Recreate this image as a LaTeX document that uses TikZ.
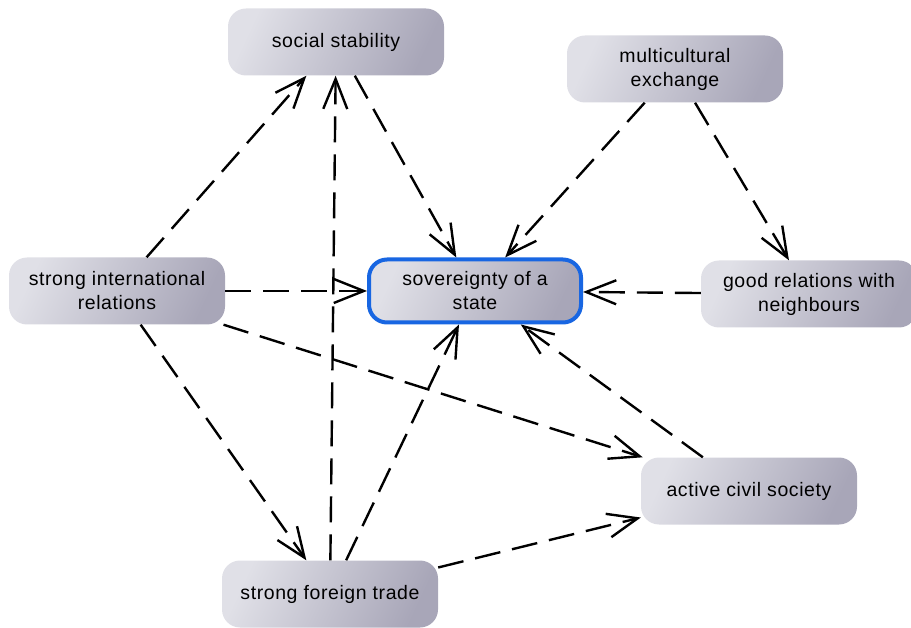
\documentclass[tikz,border=0pt]{standalone}
\usepackage{fontspec}
\setmainfont{Liberation Sans}[LetterSpace=3]
\usetikzlibrary{arrows.meta,shadings}

\definecolor{boxlight}{HTML}{E0E0E7}
\definecolor{boxmid}{HTML}{B6B4C6}
\definecolor{boxdark}{HTML}{A8A6B8}
\definecolor{focusblue}{HTML}{1866E2}

\begin{document}
\begin{tikzpicture}[x=1pt,y=-1pt,
  concept/.style={rounded corners=18pt, minimum width=216pt, minimum height=67pt,
    inner sep=0pt, align=center, font=\fontsize{19.5}{24}\selectfont,
    left color=boxlight, middle color=boxmid, right color=boxdark, shading angle=65},
  focus/.style={concept, draw=focusblue, line width=4pt,
    minimum width=212pt, minimum height=63pt},
  link/.style={draw=black, line width=2.4pt, dash pattern=on 26pt off 12pt,
    -{Straight Barb[length=30pt,width=24pt]}},
]
\useasboundingbox (0,0) rectangle (911,628);

% concepts
\node[concept] (social) at (336,42) {social stability};
\node[concept] (multi) at (675,69) {multicultural\\exchange};
\node[concept] (intl) at (117,291) {strong international\\relations};
\node[focus] (sov) at (475,291) {sovereignty of a\\state};
\node[concept] (good) at (809,294) {good relations with\\neighbours};
\node[concept] (civil) at (749,491) {active civil society};
\node[concept] (trade) at (330,594) {strong foreign trade};

% influences
\draw[link] (intl) -- (social);
\draw[link] (trade) -- (social);
\draw[link] (social) -- (sov);
\draw[link] (multi) -- (sov);
\draw[link] (multi) -- (good);
\draw[link] (good) -- (sov);
\draw[link] (intl) -- (sov);
\draw[link] (intl) -- (civil);
\draw[link] (intl) -- (trade);
\draw[link] (trade) -- (sov);
\draw[link] (civil) -- (sov);
\draw[link] (trade) -- (civil);
\end{tikzpicture}
\end{document}
